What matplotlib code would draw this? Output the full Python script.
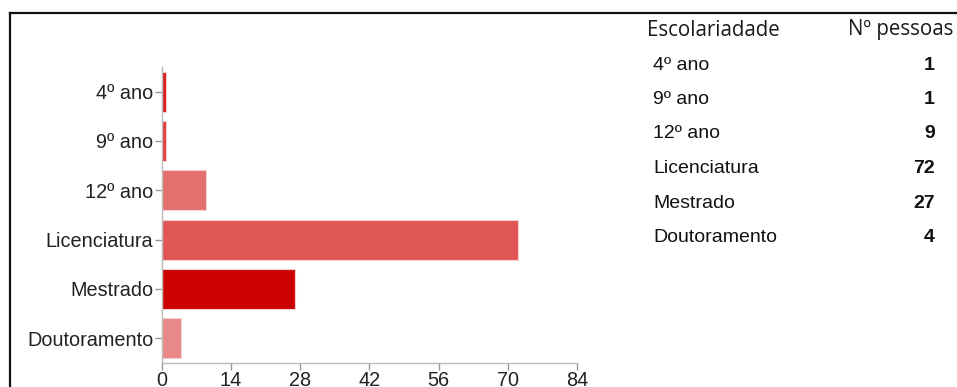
import matplotlib.pyplot as plt
from matplotlib.lines import Line2D

categories = ['4º ano', '9º ano', '12º ano', 'Licenciatura', 'Mestrado', 'Doutoramento']
table_labels = ['4º ano', '9º ano', '12º ano', 'Licenciatura', 'Mestrado', 'Doutoramento']
counts = [1, 1, 9, 72, 27, 4]
bar_colors = ['#d91c1c', '#e03c3c', '#e46f6f', '#e05656', '#cc0000', '#e88888']
xticks = [0, 14, 28, 42, 56, 70, 84]

W, H = 957, 387
fig = plt.figure(figsize=(W / 100, H / 100), dpi=100)


def fx(px):
    return px / W


def fy(py):
    return 1 - py / H


# outer frame (only top and left edges visible)
fig.add_artist(Line2D([fx(10), fx(W + 5)], [fy(12.5), fy(12.5)], color='#111111', lw=1.6,
                      transform=fig.transFigure))
fig.add_artist(Line2D([fx(10), fx(10)], [fy(12.5), fy(H + 5)], color='#111111', lw=1.6,
                      transform=fig.transFigure))

ax = fig.add_axes([fx(161.5), fy(363), fx(577) - fx(161.5), fy(67) - fy(363)])
ypos = list(range(len(categories)))
ax.barh(ypos, counts, height=0.81, color=bar_colors, edgecolor='#f6d0d0', linewidth=0.8)
ax.set_ylim(len(categories) - 0.5, -0.5)
ax.set_xlim(0, 84)
ax.set_xticks(xticks)
ax.set_yticks(ypos)
ax.set_yticklabels(categories)

for s in ['top', 'right']:
    ax.spines[s].set_visible(False)
for s in ['left', 'bottom']:
    ax.spines[s].set_color('#bbbbbb')
    ax.spines[s].set_linewidth(1.0)
ax.tick_params(axis='both', colors='#999999', length=5, width=1.0,
               labelcolor='#222222', labelsize=14.3, pad=1)
for lab in ax.get_xticklabels() + ax.get_yticklabels():
    lab.set_family('Liberation Sans')

# table on the right
fig.text(fx(647), fy(30), 'Escolariadade', family='Open Sans', fontsize=14.8,
         color='#1a1a1a', va='center', ha='left')
fig.text(fx(848), fy(30), 'Nº pessoas', family='Open Sans', fontsize=14.8,
         color='#1a1a1a', va='center', ha='left')
row_y = [65, 99.5, 134, 168.5, 203, 237.5]
for lab, n, y in zip(table_labels, counts, row_y):
    fig.text(fx(653), fy(y), lab, family='Liberation Sans', fontsize=14,
             color='#111111', va='center', ha='left')
    fig.text(fx(935), fy(y), str(n), family='Liberation Sans', fontsize=14,
             fontweight='bold', color='#111111', va='center', ha='right')

fig.savefig('out.png', dpi=100)
